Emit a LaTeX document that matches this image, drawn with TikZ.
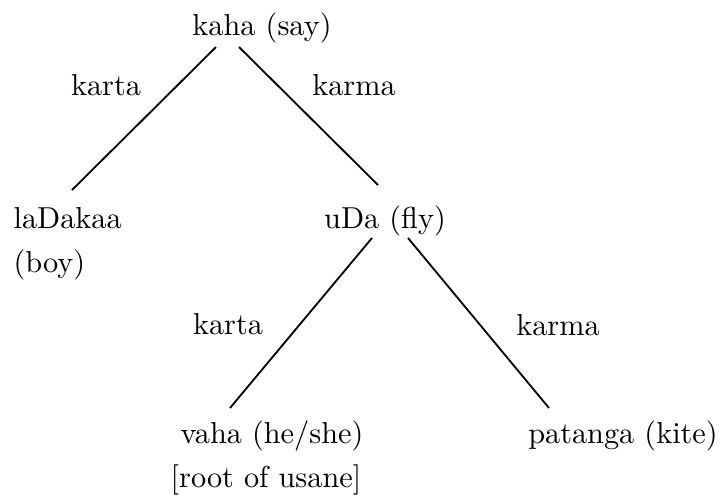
\documentclass[tikz,border=0pt]{standalone}
\usepackage{tikz}

\tikzset{
  word/.style={anchor=base, inner sep=0pt},
  rel/.style={anchor=base, inner sep=0pt},
  branch/.style={line width=0.6pt}
}

\begin{document}
\begin{tikzpicture}[x=0.33pt, y=-0.33pt]
        \useasboundingbox (0,0) rectangle (724,498);
        % words of the sentence
        \node[word] (say) at (262,35) {kaha (say)};
        \node[word, anchor=base west] (boy) at (13,228) {laDakaa};
        \node[word, anchor=base west] (boyb) at (13,272) {(boy)};
        \node[word] (fly) at (385,228) {uDa (fly)};
        \node[word] (he) at (272,443) {vaha (he/she)};
        \node[word] (heb) at (266,487) {[root of usane]};
        \node[word] (kite) at (623,443) {patanga (kite)};
        % relation labels
        \node[rel] (r1) at (106,95) {karta};
        \node[rel] (r2) at (354,95) {karma};
        \node[rel] (r3) at (228,334) {karta};
        \node[rel] (r4) at (558,335) {karma};
        % branch ends
        \coordinate (sayL) at (216,47);
        \coordinate (sayR) at (239,47);
        \coordinate (boyT) at (72,190);
        \coordinate (flyT) at (378,185);
        \coordinate (flyL) at (372,238);
        \coordinate (flyR) at (408,238);
        \coordinate (heT) at (230,408);
        \coordinate (kiteT) at (549,408);
        \draw[branch] (sayL) -- (boyT);
        \draw[branch] (sayR) -- (flyT);
        \draw[branch] (flyL) -- (heT);
        \draw[branch] (flyR) -- (kiteT);
    \end{tikzpicture}
\end{document}
